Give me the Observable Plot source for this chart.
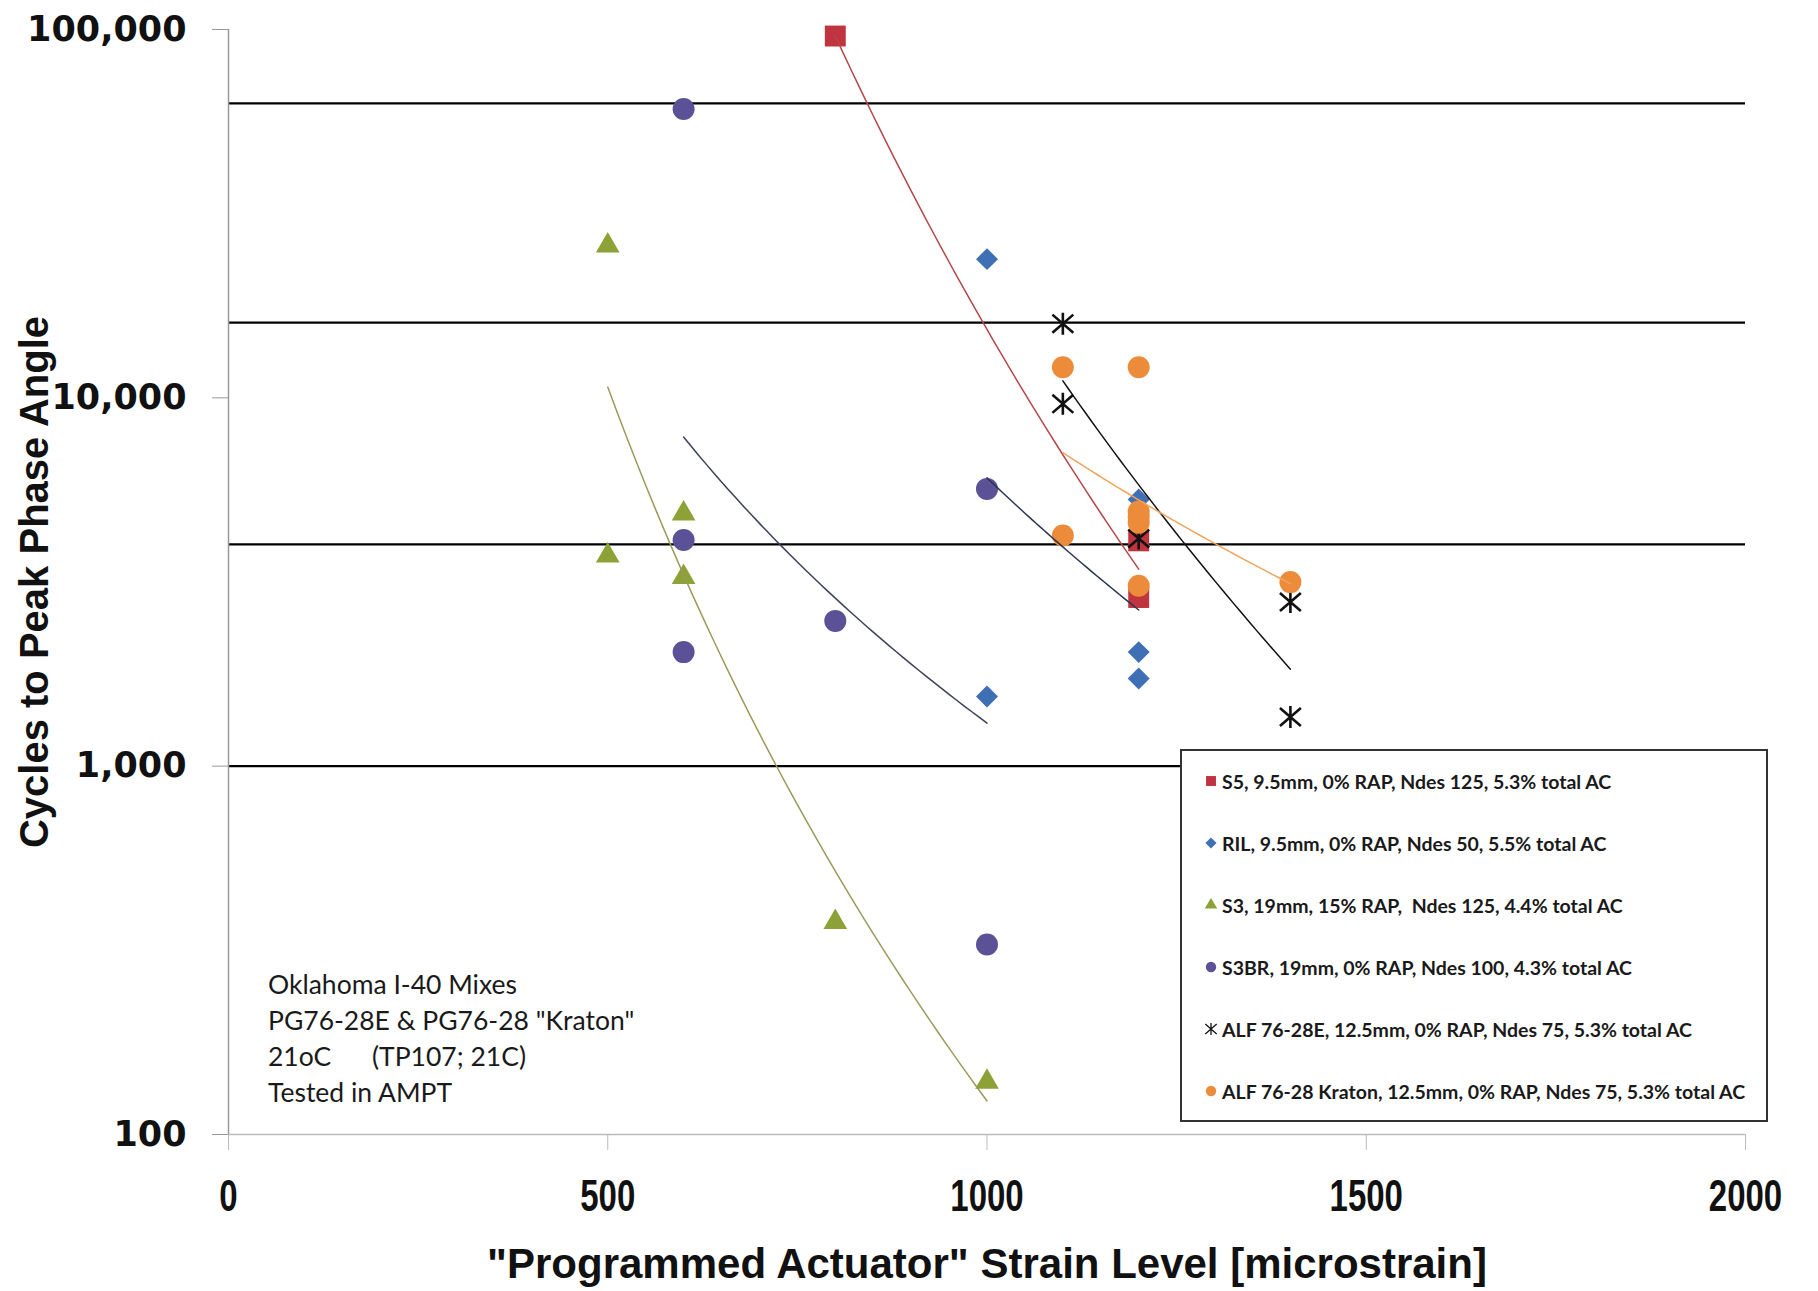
<!DOCTYPE html>
<html>
<head>
<meta charset="utf-8">
<script src="https://cdn.jsdelivr.net/npm/d3@7"></script>
<script src="https://cdn.jsdelivr.net/npm/@observablehq/plot@0.6"></script>
<style>
  html, body { margin: 0; padding: 0; background: #fff; }
  #wrap { position: relative; width: 1818px; height: 1291px; overflow: hidden; }
  #note { position: absolute; left: 268px; top: 966px; font-family: Lato, "Liberation Sans", sans-serif; font-size: 26.5px; line-height: 36px; color: #1a1a1a; white-space: pre; }
  #legend { position: absolute; left: 1180px; top: 749px; width: 584px; height: 369px; border: 2px solid #333; background: #fff; box-sizing: content-box; }
  .row { position: absolute; left: 0; height: 30px; display: flex; align-items: center; white-space: pre; font-family: Lato, "Liberation Sans", sans-serif; font-weight: bold; font-size: 19.5px; color: #1a1a1a; }
  .row svg { margin-left: 22px; margin-right: 4px; }
</style>
</head>
<body>
<div id="wrap"></div>
<script>
// ---------- data ----------
const xTicks = [0, 500, 1000, 1500, 2000];
const yTicks = [100, 1000, 10000, 100000];
const refLines = [1000, 4000, 16000, 63000];

const s5X = [800, 1200, 1200];
const s5Y = [96000, 4090, 2870];
const rilX = [1000, 1000, 1200, 1200, 1200];
const rilY = [23800, 1545, 5300, 2040, 1730];
const s3X = [500, 500, 600, 600, 800, 1000];
const s3Y = [25900, 3730, 4850, 3260, 377, 139];
const s3brX = [600, 600, 600, 800, 1000, 1000];
const s3brY = [60800, 4110, 2040, 2480, 5660, 328];
const alfEX = [1100, 1100, 1200, 1400, 1400];
const alfEY = [15900, 9630, 4150, 2790, 1360];
const kratonX = [1100, 1100, 1200, 1200, 1200, 1200, 1200, 1400];
const kratonY = [12100, 4230, 12100, 4910, 4760, 4580, 3090, 3160];

const seriesNames = [
  "S5, 9.5mm, 0% RAP, Ndes 125, 5.3% total AC",
  "RIL, 9.5mm, 0% RAP, Ndes 50, 5.5% total AC",
  "S3, 19mm, 15% RAP,  Ndes 125, 4.4% total AC",
  "S3BR, 19mm, 0% RAP, Ndes 100, 4.3% total AC",
  "ALF 76-28E, 12.5mm, 0% RAP, Ndes 75, 5.3% total AC",
  "ALF 76-28 Kraton, 12.5mm, 0% RAP, Ndes 75, 5.3% total AC"
];
const noteLines = ["Oklahoma I-40 Mixes", "PG76-28E & PG76-28 \"Kraton\"", "21oC      (TP107; 21C)", "Tested in AMPT"];
const xTitle = "\"Programmed Actuator\" Strain Level [microstrain]";
const yTitle = "Cycles to Peak Phase Angle";

// ---------- styles ----------
// Excel-like star marker: vertical stroke plus an X
const starSymbol = {
  draw(ctx, size) {
    const r = Math.sqrt(size / Math.PI);
    ctx.moveTo(0, -r); ctx.lineTo(0, r);
    ctx.moveTo(-0.95 * r, -0.82 * r); ctx.lineTo(0.95 * r, 0.82 * r);
    ctx.moveTo(-0.95 * r, 0.82 * r); ctx.lineTo(0.95 * r, -0.82 * r);
  }
};

const series = [
  {xs: s5X, ys: s5Y, symbol: d3.symbolSquare, r: 11.8, fill: "#c0343f", stroke: "none", line: "#b5474a", legR: 5.6},
  {xs: rilX, ys: rilY, symbol: d3.symbolDiamond2, r: 9.9, fill: "#3f6fb5", stroke: "none", line: "#2b3550", legR: 5},
  {xs: s3X, ys: s3Y, symbol: d3.symbolTriangle, r: 8.8, fill: "#8da236", stroke: "none", line: "#9a9a5a", legR: 4.6},
  {xs: s3brX, ys: s3brY, symbol: d3.symbolCircle, r: 11, fill: "#5b5197", stroke: "none", line: "#3e4258", legR: 5.2},
  {xs: alfEX, ys: alfEY, symbol: starSymbol, r: 11, fill: "none", stroke: "#111", line: "#111", legR: 6},
  {xs: kratonX, ys: kratonY, symbol: d3.symbolCircle, r: 11, fill: "#ec8c3a", stroke: "none", line: "#f0a45c", legR: 5.2}
];

// Excel-style power trendline (least squares on ln y vs ln x)
function powerTrend(xs, ys) {
  const lx = xs.map(Math.log), ly = ys.map(Math.log);
  const mx = d3.mean(lx), my = d3.mean(ly);
  const b = d3.sum(lx, (v, i) => (v - mx) * (ly[i] - my)) / d3.sum(lx, v => (v - mx) ** 2);
  const a = my - b * mx;
  const [x0, x1] = d3.extent(xs);
  return d3.range(41).map(i => {
    const x = x0 + (x1 - x0) * i / 40;
    return {x, y: Math.exp(a + b * Math.log(x))};
  });
}

const marks = [
  Plot.ruleY(refLines, {stroke: "#000", strokeWidth: 2.2}),
  Plot.ruleX([0], {stroke: "#999", strokeWidth: 1.5, y1: 100, y2: 100000}),
  Plot.ruleY([100], {stroke: "#bbb", strokeWidth: 1.5}),
  Plot.axisY({ticks: yTicks, tickSize: 16, tickPadding: 26, tickFormat: d3.format(","), fontSize: 35, fontFamily: "DejaVu Sans", fontWeight: "bold", stroke: "#999", fill: "#111", label: null}),
  Plot.axisX({ticks: xTicks, tickSize: 16, tickPadding: 29, tickFormat: d => String(d), fontSize: 33, fontFamily: "Liberation Sans", fontWeight: "bold", stroke: "#bbb", fill: "#111", label: null})
];

series.forEach(s => {
  const pts = s.xs.map((x, i) => ({x, y: s.ys[i]}));
  marks.push(Plot.dot(pts, {x: "x", y: "y", symbol: s.symbol, r: s.r, fill: s.fill, stroke: s.stroke, strokeWidth: 2.6}));
});
series.forEach(s => {
  marks.push(Plot.line(powerTrend(s.xs, s.ys), {x: "x", y: "y", stroke: s.line, strokeWidth: 1.5, curve: "linear"}));
});

marks.push(Plot.text([xTitle], {text: d => d, frameAnchor: "bottom", textAnchor: "middle", dy: 130, fontSize: 42, fontFamily: "Liberation Sans", fontWeight: "bold", fill: "#111", lineAnchor: "middle"}));
marks.push(Plot.text([yTitle], {text: d => d, frameAnchor: "left", textAnchor: "middle", dx: -193, rotate: -90, fontSize: 40, fontFamily: "Liberation Sans", fontWeight: "bold", fill: "#111", lineAnchor: "middle"}));

const chart = Plot.plot({
  width: 1818,
  height: 1291,
  marginLeft: 228,
  marginRight: 73,
  marginTop: 29,
  marginBottom: 157,
  style: {background: "#fff", overflow: "visible"},
  x: {domain: [0, 2000]},
  y: {type: "log", domain: [100, 100000]},
  marks
});

// x tick labels: tall condensed look of the original
d3.select(chart).selectAll('g[aria-label="x-axis tick label"] text').each(function() {
  const t = this.getAttribute("transform") || "";
  this.setAttribute("transform", (t + " scale(1,1.35)").trim());
});

const wrap = document.getElementById("wrap");
wrap.appendChild(chart);

// annotation
const note = document.createElement("div");
note.id = "note";
note.textContent = noteLines.join("\n");
wrap.appendChild(note);

// legend
const legend = document.createElement("div");
legend.id = "legend";
seriesNames.forEach((name, i) => {
  const s = series[i];
  const row = document.createElement("div");
  row.className = "row";
  row.style.top = (15 + i * 62) + "px";
  const svg = d3.create("svg").attr("width", 14).attr("height", 14);
  svg.append("path")
    .attr("transform", "translate(7,7)")
    .attr("d", d3.symbol(s.symbol, Math.PI * s.legR * s.legR)())
    .attr("fill", s.fill)
    .attr("stroke", s.stroke)
    .attr("stroke-width", 1.3);
  row.appendChild(svg.node());
  const span = document.createElement("span");
  span.textContent = name;
  row.appendChild(span);
  legend.appendChild(row);
});
wrap.appendChild(legend);
</script>
</body>
</html>
